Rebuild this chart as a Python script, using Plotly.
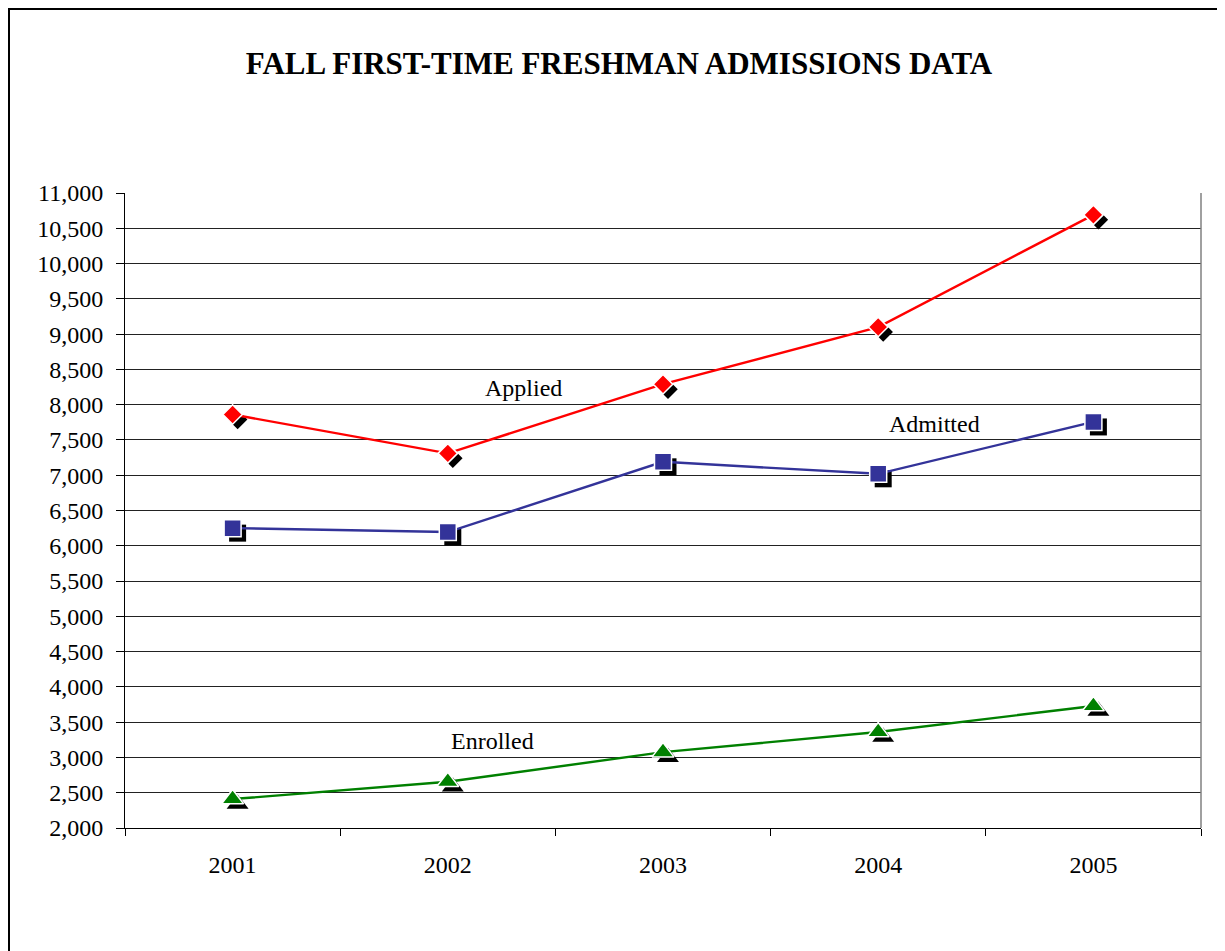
import plotly.graph_objects as go

years = ["2001", "2002", "2003", "2004", "2005"]
applied = [7860, 7310, 8290, 9100, 10690]
admitted = [6250, 6195, 7190, 7020, 7755]
enrolled = [2410, 2655, 3075, 3360, 3730]

series_names = ["Applied", "Admitted", "Enrolled"]
series_values = [applied, admitted, enrolled]
series_colors = ["#FF0000", "#333399", "#008000"]
series_symbols = ["diamond", "square", "triangle-up"]
series_sizes = [15, 17, 19]

# label position (category index, value) for each series
label_x = [1.35, 3.26, 1.21]
label_y = [8240, 7725, 3235]

# page body adds an 8px margin, so the figure starts at (8, 8)
W, H = 1225, 951
L, R, T, B = 117, 32, 185, 131
plot_w = W - L - R
plot_h = H - T - B
shadow_px = 5
x_range = [-0.5, len(years) - 0.5]
x_shift = shadow_px * (x_range[1] - x_range[0]) / plot_w
y_range = [2000, 11000]
y_shift = shadow_px * (y_range[1] - y_range[0]) / plot_h

serif = "Liberation Serif"

fig = go.Figure()

# shadow markers on a slightly shifted axis pair
for vals, sym, size in zip(series_values, series_symbols, series_sizes):
    fig.add_trace(go.Scatter(
        x=years, y=vals, mode="markers",
        marker=dict(symbol=sym, size=size, color="black"),
        xaxis="x2", yaxis="y2", hoverinfo="skip", showlegend=False
    ))

for name, vals, color, sym, size in zip(series_names, series_values,
                                         series_colors, series_symbols, series_sizes):
    fig.add_trace(go.Scatter(
        x=years, y=vals, mode="lines+markers", name=name,
        line=dict(color=color, width=2.4),
        marker=dict(symbol=sym, size=size, color=color,
                    line=dict(color="white", width=1.5)),
        xaxis="x3", yaxis="y3", showlegend=False
    ))

# invisible trace so the base axes exist
fig.add_trace(go.Scatter(x=years, y=[None] * len(years), mode="markers",
                         showlegend=False, hoverinfo="skip"))

hidden = dict(visible=False, showgrid=False, zeroline=False)

fig.update_layout(
    width=W, height=H,
    margin=dict(l=L, r=R, t=T, b=B),
    paper_bgcolor="white", plot_bgcolor="white",
    font=dict(family=serif, color="black"),
    title=dict(text="<b>FALL FIRST-TIME FRESHMAN ADMISSIONS DATA</b>",
               font=dict(family=serif, size=31, color="black"),
               x=611 / W, xanchor="center", xref="container",
               y=1 - 55 / H, yanchor="middle", yref="container"),
    xaxis=dict(type="category", range=x_range, tickson="boundaries",
               showgrid=False, showline=True, linecolor="black", linewidth=1,
               ticks="outside", ticklen=7, tickcolor="black",
               ticklabelstandoff=15,
               tickfont=dict(family=serif, size=24, color="black")),
    yaxis=dict(range=y_range, dtick=500, tickformat=",",
               showgrid=True, gridcolor="#222222", gridwidth=1,
               zeroline=False, showline=True, linecolor="black", linewidth=1,
               ticks="outside", ticklen=8, tickcolor="black",
               ticklabelstandoff=8,
               tickfont=dict(family=serif, size=24, color="black")),
    xaxis2=dict(type="category", overlaying="x", anchor="y2",
                range=[x_range[0] - x_shift, x_range[1] - x_shift], **hidden),
    yaxis2=dict(overlaying="y", anchor="x2",
                range=[y_range[0] + y_shift, y_range[1] + y_shift], **hidden),
    xaxis3=dict(type="category", overlaying="x", anchor="y3",
                range=x_range, **hidden),
    yaxis3=dict(overlaying="y", anchor="x3", range=y_range, **hidden),
)

for name, lx, ly in zip(series_names, label_x, label_y):
    fig.add_annotation(x=lx, y=ly, xref="x3", yref="y3", text=name,
                       showarrow=False,
                       font=dict(family=serif, size=24, color="black"))

# right edge of the plot area
fig.add_shape(type="line", xref="paper", yref="paper", x0=1, x1=1, y0=0, y1=1,
              line=dict(color="#808080", width=1.5))

# outer chart border (runs off the right and bottom of the picture)
fig.add_shape(type="rect", xref="paper", yref="paper",
              x0=(1 - L) / plot_w, x1=(W + 20 - L) / plot_w,
              y0=-(B + 20) / plot_h, y1=1 + (T - 1) / plot_h,
              line=dict(color="black", width=2), layer="below")

fig.write_html("out.html")
